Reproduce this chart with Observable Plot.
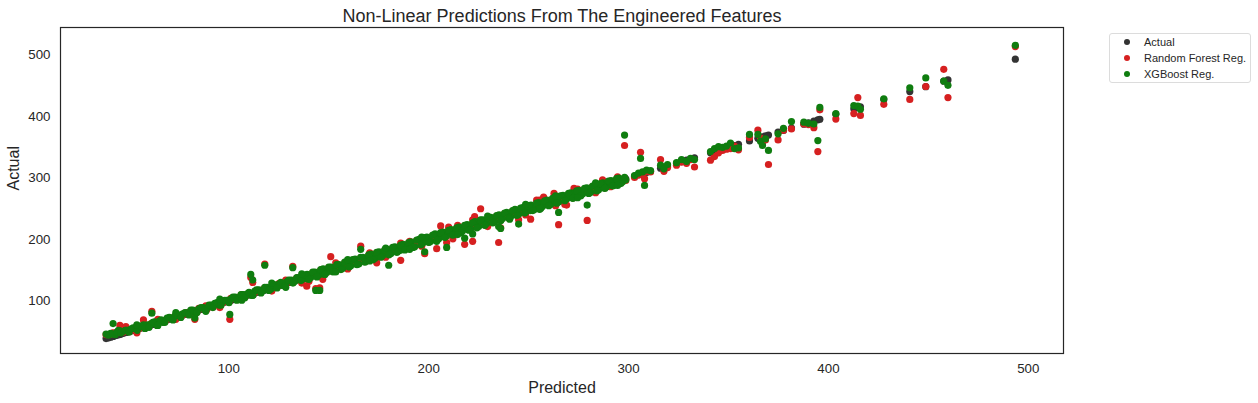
<!DOCTYPE html>
<html>
<head>
<meta charset="utf-8">
<script src="https://cdn.jsdelivr.net/npm/d3@7"></script>
<script src="https://cdn.jsdelivr.net/npm/@observablehq/plot@0.6"></script>
<style>
  body { margin: 0; background: #fff; font-family: "Liberation Sans", Arial, sans-serif; }
  #wrap { position: relative; width: 1258px; height: 403px; background: #fff; }
  #legend { position: absolute; left: 1109px; top: 33px; width: 142px; height: 50px; box-sizing: border-box;
            border: 1px solid #dcdcdc; border-radius: 3px; background: #fff; color: #262626; font-size: 11px; }
  .item { position: absolute; left: 0; height: 16px; display: flex; align-items: center; white-space: nowrap; }
  .item svg { margin-left: 13px; margin-right: 13px; }
</style>
</head>
<body>
<div id="wrap"><div id="legend"></div></div>
<script>
const title = "Non-Linear Predictions From The Engineered Features";
const xLabel = "Predicted";
const yLabel = "Actual";
const seriesNames = ["Actual", "Random Forest Reg.", "XGBoost Reg."];
const seriesColors = ["#333333", "#d62020", "#0f7d0f"];
const xTicks = [100, 200, 300, 400, 500];
const yTicks = [100, 200, 300, 400, 500];
const xDomain = [15.8, 517.6];
const yDomain = [14.3, 545.1];

// actual values (x position, and the y of the "Actual" series)
const actualValues = [
  38.6, 40.9, 43.2, 44.8, 47.1, 49.3, 51.0, 53.2, 55.1, 57.0,
  59.2, 61.1, 62.9, 65.2, 67.0, 69.1, 71.2, 73.0, 75.1, 76.9,
  79.2, 81.0, 83.1, 85.0, 87.2, 89.0, 91.1, 93.0, 95.2, 97.0,
  99.1, 101.0, 103.2, 105.0, 107.1, 109.0, 111.2, 113.0, 115.1, 117.0,
  119.1, 121.0, 123.2, 125.0, 127.1, 129.0, 131.2, 133.0, 135.1, 137.0,
  139.2, 141.0, 143.1, 145.0, 147.2, 149.0, 151.1, 153.0, 155.2, 157.0,
  159.1, 161.0, 163.2, 165.0, 167.1, 169.0, 171.2, 173.0, 175.1, 177.0,
  179.2, 181.0, 183.1, 185.0, 187.2, 189.0, 191.1, 193.0, 195.2, 197.0,
  199.1, 201.0, 203.2, 205.0, 207.1, 209.0, 211.2, 213.0, 215.1, 217.0,
  219.2, 221.0, 223.1, 225.0, 227.2, 229.0, 231.1, 233.0, 235.2, 237.0,
  239.1, 241.0, 243.2, 245.0, 247.1, 249.0, 251.2, 253.0, 255.1, 257.0,
  259.2, 261.0, 263.1, 265.0, 267.2, 269.0, 271.1, 273.0, 275.2, 277.0,
  279.1, 281.0, 283.2, 285.0, 287.1, 289.0, 291.2, 293.0, 295.1, 297.0,
  298.6, 303.0, 305.0, 307.0, 309.0, 311.0, 316.0, 317.7, 319.5, 324.0,
  326.5, 329.0, 331.0, 333.0, 341.0, 343.0, 345.0, 347.0, 349.0, 351.0,
  353.0, 355.0, 360.5, 364.7, 366.0, 367.0, 368.5, 370.0, 374.8, 377.5,
  381.5, 387.7, 390.0, 392.7, 394.7, 395.7, 403.7, 412.7, 414.7, 416.0,
  427.7, 440.7, 448.7, 457.7, 459.8, 493.5,
  42.1, 45.5, 48.5, 57.3, 61.5, 83.0, 100.5, 111.0, 112.0, 118.0,
  132.0, 139.0, 143.5, 145.5, 147.0, 151.0, 166.0, 174.0, 180.0, 186.0,
  198.0, 204.0, 206.0, 209.0, 210.0, 218.0, 222.0, 223.0, 226.0, 235.0,
  236.0, 245.0, 251.0, 257.5, 262.7, 265.0, 269.0, 272.7, 279.3, 287.0,
  291.0, 298.0, 306.0, 308.0,
  39.8, 42.0, 44.0, 46.0, 48.2, 50.1, 52.1, 54.2, 56.0, 58.1,
  60.1, 62.0, 64.1, 66.1, 68.0, 70.2, 72.1, 74.0, 76.0, 78.1,
  80.1, 82.0, 84.1, 86.1, 88.0, 90.1, 92.0, 94.1, 96.1, 98.0,
  100.1, 102.1, 104.0, 106.1, 108.0, 110.1, 112.1, 114.0, 116.1, 118.0,
  120.1, 122.0, 124.1, 126.0, 128.1, 130.0, 132.1, 134.0, 136.1, 138.0,
  140.1, 142.0, 144.1, 146.0, 148.1, 150.0, 152.1, 154.0, 156.1, 158.0,
  160.1, 162.0, 164.1, 166.0, 168.1, 170.0, 172.1, 174.0, 176.1, 178.0,
  180.1, 182.0, 184.1, 186.0, 188.1, 190.0, 192.1, 194.0, 196.1, 198.0,
  200.1, 202.0, 204.1, 206.0, 208.1, 210.0, 212.1, 214.0, 216.1, 218.0,
  220.1, 222.0, 224.1, 226.0, 228.1, 230.0, 232.1, 234.0, 236.1, 238.0,
  240.1, 242.0, 244.1, 246.0, 248.1, 250.0, 252.1, 254.0, 256.1, 258.0,
  260.1, 262.0, 264.1, 266.0, 268.1, 270.0, 272.1, 274.0, 276.1, 278.0,
  280.1, 282.0, 284.1, 286.0, 288.1, 290.0, 292.1, 294.0, 296.1, 298.0,
  54.0, 64.5, 73.5, 88.5, 95.5, 106.5, 121.5, 128.5, 136.5, 153.5,
  159.5, 170.5, 178.5, 190.5, 196.5, 214.5, 229.5, 240.5, 248.5, 255.5,
  263.5, 274.5, 283.5, 294.5
];

const rfValues = [
  45, 46, 47, 50, 49, 54, 52, 56, 55, 59,
  59, 63, 64, 68, 67, 70, 72, 74, 76, 77,
  81, 83, 80, 88, 87, 86, 92, 94, 95, 97,
  99, 104, 104, 105, 108, 110, 112, 114, 116, 118,
  120, 121, 124, 128, 126, 129, 132, 134, 136, 138,
  140, 140, 145, 144, 149, 147, 152, 151, 157, 155,
  160, 160, 165, 163, 168, 168, 173, 171, 177, 176,
  181, 179, 185, 184, 189, 187, 193, 191, 197, 196,
  201, 199, 206, 203, 209, 208, 213, 211, 217, 216,
  221, 219, 226, 223, 229, 228, 233, 231, 237, 236,
  241, 239, 246, 243, 249, 248, 253, 251, 257, 256,
  261, 259, 266, 263, 269, 268, 273, 271, 277, 276,
  281, 279, 286, 283, 289, 288, 293, 291, 297, 296,
  296, 301, 305, 309, 311, 310, 330, 311, 317, 321,
  326, 324, 330, 318, 329, 335, 341, 345, 347, 348,
  352, 346, 366, 378, 365, 358, 362, 322, 362, 378,
  380, 388, 387, 382, 343, 411, 396, 405, 431, 402,
  420, 428, 449, 477, 431, 514,
  48, 60, 58, 69, 83, 70, 70, 138, 130, 160,
  156, 124, 120, 121, 135, 172, 189, 162, 176, 166,
  177, 185, 222, 195, 220, 192, 197, 237, 250, 195,
  219, 232, 233, 269, 275, 224, 256, 283, 231, 297,
  286, 353, 342, 299,
  45, 47, 48, 49, 51, 50, 55, 53, 58, 56,
  58, 64, 61, 68, 66, 72, 70, 76, 74, 80,
  78, 84, 82, 88, 86, 92, 90, 96, 94, 100,
  98, 105, 102, 109, 106, 113, 110, 117, 114, 121,
  118, 125, 122, 129, 126, 133, 130, 137, 134, 141,
  132, 146, 140, 150, 144, 154, 148, 158, 152, 162,
  156, 166, 160, 170, 164, 174, 168, 178, 172, 182,
  176, 186, 180, 194, 184, 194, 188, 198, 192, 202,
  196, 206, 200, 210, 204, 214, 201, 218, 212, 222,
  216, 232, 220, 230, 224, 234, 228, 238, 232, 242,
  236, 246, 240, 250, 244, 254, 248, 264, 252, 262,
  256, 266, 260, 270, 257, 274, 268, 278, 272, 282,
  276, 286, 280, 290, 284, 294, 288, 298, 292, 300,
  48, 70, 70, 92, 89, 110, 116, 134, 129, 162,
  152, 178, 171, 197, 189, 223, 221, 242, 240, 264,
  255, 282, 276, 302
];

const xgbValues = [
  46, 47, 45, 52, 50, 52, 54, 55, 57, 58,
  61, 62, 66, 67, 65, 72, 71, 75, 77, 79,
  80, 85, 81, 87, 89, 88, 93, 96, 93, 99,
  101, 103, 106, 104, 110, 111, 109, 116, 118, 116,
  122, 119, 126, 127, 125, 131, 134, 132, 138, 136,
  143, 138, 147, 142, 152, 146, 155, 149, 159, 153,
  163, 157, 168, 160, 171, 166, 176, 169, 180, 174,
  184, 177, 188, 181, 192, 186, 196, 188, 200, 194,
  204, 197, 209, 201, 212, 206, 216, 209, 220, 214,
  224, 217, 229, 221, 232, 226, 236, 229, 240, 234,
  244, 237, 249, 241, 252, 246, 256, 249, 260, 254,
  264, 257, 269, 261, 272, 266, 276, 269, 280, 274,
  284, 277, 289, 281, 292, 286, 296, 289, 300, 294,
  297, 304, 308, 310, 313, 312, 321, 315, 322, 325,
  330, 327, 332, 330, 343, 348, 351, 350, 352, 357,
  348, 349, 371, 371, 360, 353, 364, 345, 372, 381,
  392, 391, 389, 388, 361, 415, 405, 418, 417, 412,
  429, 447, 463, 458, 451, 516,
  63, 51, 52, 61, 80, 72, 78, 143, 134, 158,
  154, 136, 117, 117, 144, 153, 184, 172, 158, 183,
  180, 197, 210, 187, 213, 202, 209, 228, 232, 221,
  218, 225, 247, 259, 264, 244, 267, 275, 256, 289,
  293, 370, 332, 288,
  44, 46, 49, 48, 52, 49, 56, 52, 59, 55,
  57, 65, 60, 69, 65, 73, 69, 77, 73, 81,
  77, 85, 81, 89, 85, 93, 89, 97, 93, 101,
  97, 106, 101, 110, 105, 114, 109, 118, 113, 122,
  117, 126, 121, 130, 125, 134, 129, 138, 133, 142,
  135, 147, 139, 151, 143, 155, 147, 159, 151, 163,
  155, 167, 159, 171, 163, 175, 167, 179, 171, 183,
  175, 187, 179, 191, 183, 195, 187, 199, 191, 203,
  195, 207, 199, 211, 203, 215, 207, 219, 211, 223,
  215, 227, 219, 231, 223, 235, 227, 239, 231, 243,
  235, 247, 239, 251, 243, 255, 247, 259, 251, 263,
  255, 267, 259, 271, 263, 275, 267, 279, 271, 283,
  275, 287, 279, 291, 283, 295, 287, 299, 291, 301,
  61, 60, 81, 83, 103, 101, 129, 122, 144, 147,
  167, 165, 186, 184, 204, 208, 238, 233, 257, 249,
  271, 268, 292, 288
];

const points = actualValues.map((v, i) => ({x: v, actual: v, rf: rfValues[i], xgb: xgbValues[i]}));

const chart = Plot.plot({
  width: 1258,
  height: 403,
  marginLeft: 60,
  marginRight: 195,
  marginTop: 27,
  marginBottom: 50,
  style: {background: "#fff", fontFamily: "'Liberation Sans', Arial, sans-serif", color: "#262626", overflow: "visible"},
  x: {domain: xDomain},
  y: {domain: yDomain},
  color: {domain: seriesNames, range: seriesColors},
  marks: [
    Plot.axisX(xTicks, {tickSize: 0, tickPadding: 10, fontSize: 13.3, label: null, fill: "#262626"}),
    Plot.axisY(yTicks, {tickSize: 0, tickPadding: 10, fontSize: 13.3, label: null, fill: "#262626"}),
    Plot.dot(points, {x: "x", y: "actual", fill: () => seriesNames[0], r: 3.6}),
    Plot.dot(points, {x: "x", y: "rf", fill: () => seriesNames[1], r: 3.6}),
    Plot.dot(points, {x: "x", y: "xgb", fill: () => seriesNames[2], r: 3.6}),
    Plot.frame({stroke: "#262626", strokeWidth: 1.2}),
    Plot.text([title], {frameAnchor: "top", lineAnchor: "middle", dy: -11, fontSize: 18, fill: "#262626"}),
    Plot.text([xLabel], {frameAnchor: "bottom", lineAnchor: "middle", dy: 34, fontSize: 16, fill: "#262626"}),
    Plot.text([yLabel], {frameAnchor: "left", lineAnchor: "middle", dx: -47, rotate: -90, fontSize: 16, fill: "#262626"})
  ]
});
document.getElementById("wrap").prepend(chart);

const legend = document.getElementById("legend");
seriesNames.forEach((name, i) => {
  const item = document.createElement("div");
  item.className = "item";
  item.style.top = (i * 15.8) + "px";
  item.innerHTML = `<svg width="8" height="8"><circle cx="4" cy="4" r="3" fill="${seriesColors[i]}"></circle></svg><span>${name}</span>`;
  legend.appendChild(item);
});
</script>
</body>
</html>
